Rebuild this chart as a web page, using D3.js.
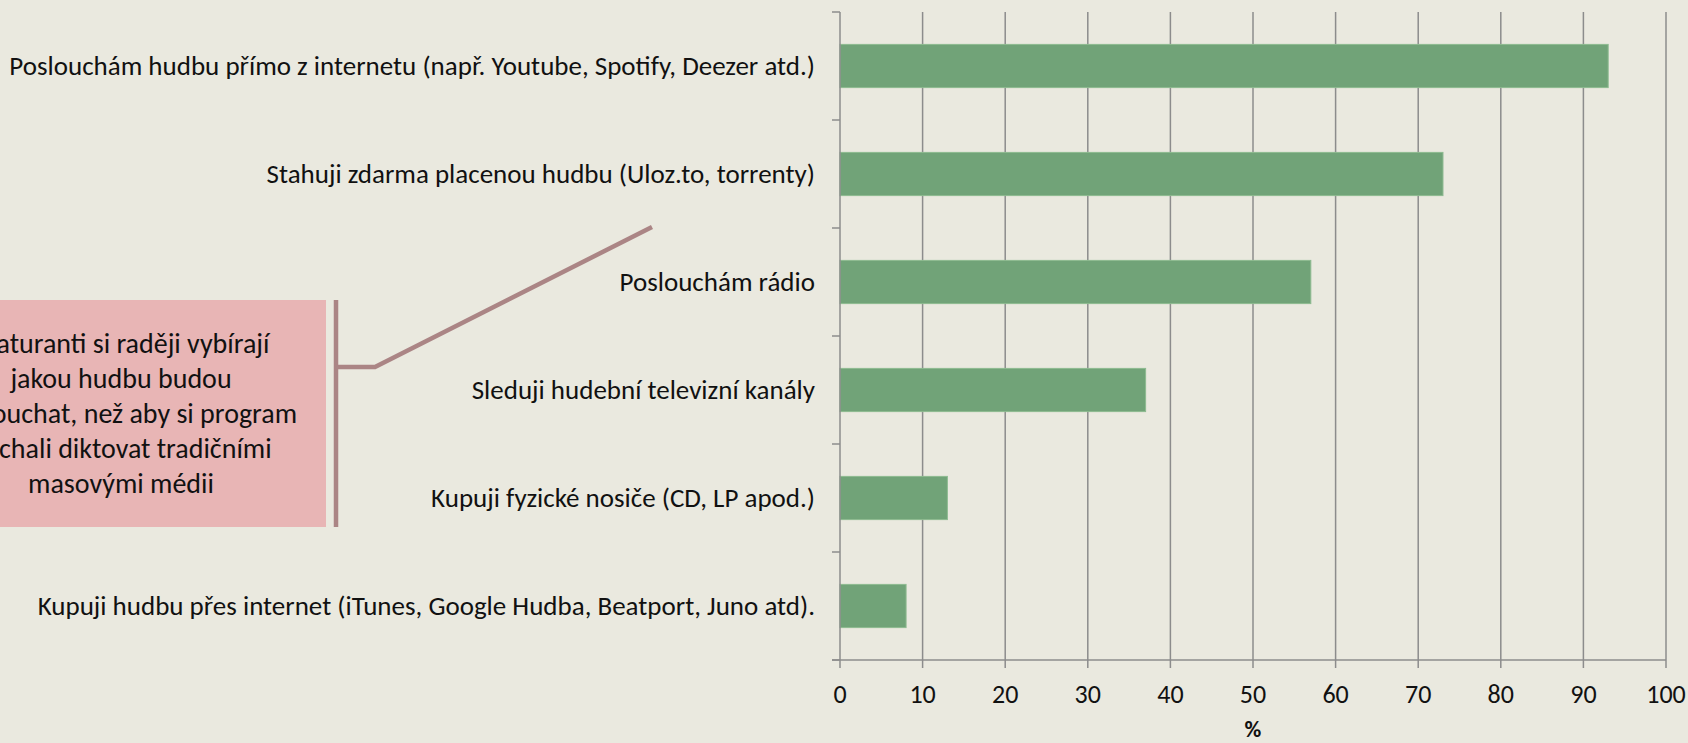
<!DOCTYPE html>
<html>
<head>
<meta charset="utf-8">
<script src="https://cdn.jsdelivr.net/npm/d3@7"></script>
<style>
  html, body { margin: 0; padding: 0; background: #eae9df; overflow: hidden; }
  svg { display: block; font-family: Carlito, Calibri, Lato, sans-serif; }
</style>
</head>
<body>
<div id="chart"></div>
<script>
const categories = [
    "Poslouchám hudbu přímo z internetu (např. Youtube, Spotify, Deezer atd.)",
    "Stahuji zdarma placenou hudbu (Uloz.to, torrenty)",
    "Poslouchám rádio",
    "Sleduji hudební televizní kanály",
    "Kupuji fyzické nosiče (CD, LP apod.)",
    "Kupuji hudbu přes internet (iTunes, Google Hudba, Beatport, Juno atd)."
];
const values = [93, 73, 57, 37, 13, 8];
const xTicks = [0, 10, 20, 30, 40, 50, 60, 70, 80, 90, 100];
const axisTitle = "%";
const calloutLines = [
    "Maturanti si raději vybírají",
    "jakou hudbu budou",
    "poslouchat, než aby si program",
    "nechali diktovat tradičními",
    "masovými médii"
];

const width = 1688, height = 743;
const margin = {top: 12, right: 22, bottom: 83, left: 840};

const svg = d3.select("#chart").append("svg")
    .attr("width", width)
    .attr("height", height);

const x = d3.scaleLinear()
    .domain([0, 100])
    .range([margin.left, width - margin.right]);

const y = d3.scaleBand()
    .domain(categories)
    .range([margin.top, height - margin.bottom])
    .paddingInner(0.6)
    .paddingOuter(0.3);

const step = y.step();
const bandStart = d => y(d) - step * y.paddingInner() / 2;

// vertical gridlines
svg.append("g").classed("grid", true)
    .selectAll("line")
    .data(xTicks.slice(1))
    .enter().append("line")
        .attr("x1", d => x(d)).attr("x2", d => x(d))
        .attr("y1", margin.top).attr("y2", height - margin.bottom)
        .attr("stroke", "#8c8c8c")
        .attr("stroke-width", 1.5);

// bars
svg.append("g").classed("bars", true)
    .selectAll("rect")
    .data(values)
    .enter().append("rect")
        .attr("x", x(0))
        .attr("y", (d, i) => y(categories[i]))
        .attr("width", d => x(d) - x(0))
        .attr("height", y.bandwidth())
        .attr("fill", "#71a378")
        .attr("stroke", "#8dbb90")
        .attr("stroke-width", 1);

// y axis line + category ticks
const yAxis = svg.append("g").classed("yAxis", true);
yAxis.append("line")
    .attr("x1", x(0)).attr("x2", x(0))
    .attr("y1", margin.top).attr("y2", height - margin.bottom)
    .attr("stroke", "#8c8c8c").attr("stroke-width", 1.5);
const boundaries = categories.map(bandStart).concat([height - margin.bottom]);
yAxis.selectAll("line.tick")
    .data(boundaries)
    .enter().append("line")
        .classed("tick", true)
        .attr("x1", x(0) - 8).attr("x2", x(0))
        .attr("y1", d => d).attr("y2", d => d)
        .attr("stroke", "#8c8c8c").attr("stroke-width", 1.5);
yAxis.selectAll("text")
    .data(categories)
    .enter().append("text")
        .attr("x", x(0) - 25)
        .attr("y", d => y(d) + y.bandwidth() / 2 + 9)
        .attr("text-anchor", "end")
        .attr("font-size", 27)
        .attr("fill", "#111")
        .text(d => d);

// x axis
const xAxis = svg.append("g").classed("xAxis", true);
xAxis.append("line")
    .attr("x1", x(0) - 8).attr("x2", x(100))
    .attr("y1", height - margin.bottom).attr("y2", height - margin.bottom)
    .attr("stroke", "#8c8c8c").attr("stroke-width", 1.5);
xAxis.selectAll("line.tick")
    .data(xTicks)
    .enter().append("line")
        .classed("tick", true)
        .attr("x1", d => x(d)).attr("x2", d => x(d))
        .attr("y1", height - margin.bottom).attr("y2", height - margin.bottom + 8)
        .attr("stroke", "#8c8c8c").attr("stroke-width", 1.5);
xAxis.selectAll("text")
    .data(xTicks)
    .enter().append("text")
        .attr("x", d => x(d))
        .attr("y", height - margin.bottom + 43)
        .attr("text-anchor", "middle")
        .attr("font-size", 26)
        .attr("fill", "#111")
        .text(d => d);
xAxis.append("text")
    .attr("x", x(50))
    .attr("y", height - 6)
    .attr("text-anchor", "middle")
    .attr("font-size", 23)
    .attr("font-weight", "bold")
    .attr("fill", "#111")
    .text(axisTitle);

// callout
const callout = svg.append("g").classed("callout", true);
callout.append("rect")
    .attr("x", -10).attr("y", 300)
    .attr("width", 336).attr("height", 227)
    .attr("fill", "#e8b5b5");
callout.selectAll("text")
    .data(calloutLines)
    .enter().append("text")
        .attr("x", 121)
        .attr("y", (d, i) => 353 + i * 35)
        .attr("text-anchor", "middle")
        .attr("font-size", 28)
        .attr("fill", "#111")
        .text(d => d);
callout.append("path")
    .attr("d", "M336,300 L336,527 M336,367 L375,367 L652,227")
    .attr("fill", "none")
    .attr("stroke", "#ab8585")
    .attr("stroke-width", 4.5);
</script>
</body>
</html>
